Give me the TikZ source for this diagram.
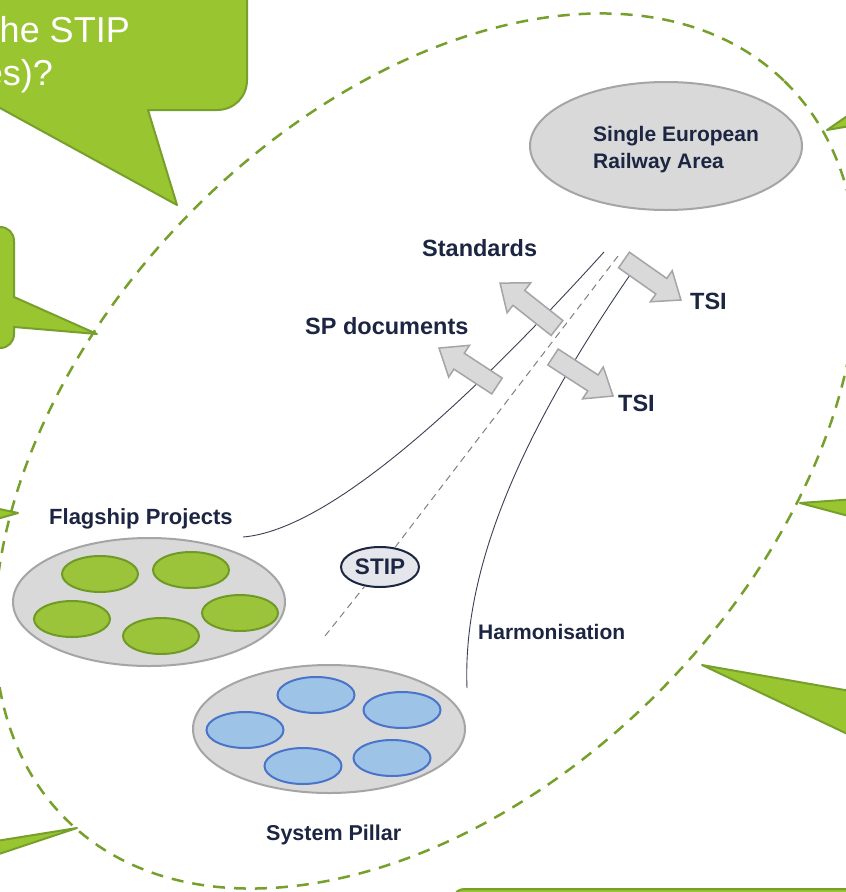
\documentclass[tikz,border=0pt]{standalone}
\usepackage{fontspec}
\setmainfont{Liberation Sans}
\definecolor{calloutgreen}{HTML}{99C530}
\definecolor{calloutedge}{HTML}{76A02B}
\definecolor{navy}{HTML}{1C2541}
\definecolor{panelgrey}{HTML}{D9D9D9}
\definecolor{paneledge}{HTML}{A5A5A5}
\definecolor{leafgreen}{HTML}{9BC43A}
\definecolor{leafedge}{HTML}{6F9A25}
\definecolor{bluefill}{HTML}{9DC3E6}
\definecolor{blueedge}{HTML}{4A74C9}
\definecolor{stipfill}{HTML}{E4E6EC}
\definecolor{curvecol}{HTML}{3A3F55}
\usetikzlibrary{shapes.geometric}
\tikzset{
  panel/.style={ellipse, fill=panelgrey, draw=paneledge, line width=2pt, inner sep=0pt, minimum width=272pt, minimum height=128pt},
  leaf/.style={ellipse, fill=leafgreen, draw=leafedge, line width=2pt, inner sep=0pt, minimum width=76pt, minimum height=36pt},
  bleaf/.style={ellipse, fill=bluefill, draw=blueedge, line width=2pt, inner sep=0pt, minimum width=77pt, minimum height=36pt},
  lbl/.style={font=\bfseries\fontsize{22}{26}\selectfont, text=navy, inner sep=0pt, anchor=base west},
  lblbig/.style={lbl, font=\bfseries\fontsize{23.5}{27}\selectfont},
  callout/.style={fill=calloutgreen, draw=calloutedge, line width=2pt, line join=round},
  bubbletext/.style={font=\fontsize{36}{43}\selectfont, text=white, inner sep=0pt, anchor=base east},
  boundary/.style={draw=calloutedge, line width=2.5pt, dash pattern=on 12pt off 9pt},
  blockarrow/.style={fill=panelgrey, draw=paneledge, line width=1.5pt, line join=miter},
  thinline/.style={draw=curvecol, line width=0.9pt},
  centreline/.style={draw=gray, line width=1pt, dash pattern=on 7pt off 5pt},
  pics/blockarr/.style={code={\draw[blockarrow] (0,-9.5) -- (#1-24,-9.5) -- (#1-24,-19) -- (#1,0) -- (#1-24,19) -- (#1-24,9.5) -- (0,9.5) -- cycle;}}
}
\begin{document}
\begin{tikzpicture}[x=1pt,y=-1pt]
\useasboundingbox (0,0) rectangle (846,892);
\clip (0,0) rectangle (846,892);
\fill[white] (0,0) rectangle (846,892);

% dashed boundary ellipse
\draw[boundary, rotate around={46:(426,451)}] (426,451) ellipse [x radius=515pt, y radius=335pt];

% green callouts
\draw[callout] (-30,-30) -- (247,-30) -- (247,80) .. controls (247,97) and (234,110) .. (217,110) -- (148,110) -- (177,205) -- (-20,97) -- cycle;
\node[bubbletext] (q1) at (130,42) {he STIP};
\node[bubbletext] (q2) at (53,85) {es)?};
\draw[callout] (-30,227) -- (0,227) .. controls (8,227) and (14,233) .. (14,241) -- (14,297) -- (97,334) -- (14,327) -- (14,334) .. controls (14,342) and (8,348) .. (0,348) -- (-30,348) -- cycle;
\draw[callout] (-10,507) -- (18,513) -- (-10,521) -- cycle;
\draw[callout] (-10,842) -- (77,828) -- (-10,857) -- cycle;
\draw[callout] (856,110) -- (827,130) -- (856,125) -- cycle;
\draw[callout] (856,499) -- (800,503) -- (856,518) -- cycle;
\draw[callout] (856,692) -- (702,665) -- (856,738) -- cycle;
\draw[callout] (455,905) -- (455,897) .. controls (455,892) and (458,889) .. (466,889) -- (860,889) -- (860,905) -- cycle;

% Single European Railway Area
\node[panel] (sera) at (666,146) {};
\node[lbl, font=\bfseries\fontsize{21}{25}\selectfont] (sera1) at (593,141) {Single European};
\node[lbl, font=\bfseries\fontsize{21}{25}\selectfont] (sera2) at (593,168) {Railway Area};

% coordinates of the lines
\coordinate (lbot) at (243,537);
\coordinate (ltop) at (604,252);
\coordinate (rbot) at (467,688);
\coordinate (rtop) at (632,272);
\coordinate (dbot) at (325,636);
\coordinate (dtop) at (618,256);

\node[ellipse, fill=stipfill, draw=navy, line width=2pt, inner sep=0pt, minimum width=78pt, minimum height=40pt, font=\bfseries\fontsize{22.5}{26}\selectfont, text=navy] (stip) at (380,567) {STIP};

\draw[centreline] (dbot) -- (stip);
\draw[centreline] (stip) -- (dtop);
\draw[thinline] (lbot) .. controls (330,530) and (470,400) .. (ltop);
\draw[thinline] (rbot) .. controls (462,560) and (530,420) .. (rtop);

% block arrows
\pic[rotate=141.7] at (557,328) {blockarr=72.6};
\pic[rotate=146.8] at (497,386) {blockarr=69.3};
\pic[rotate=-35.1] at (624,260) {blockarr=69.6};
\pic[rotate=-33.0] at (553,357) {blockarr=71.6};

% labels
\node[lblbig] (standards) at (422,256) {Standards};
\node[lblbig] (spdocs) at (305,334) {SP documents};
\node[lblbig] (tsi1) at (690,309) {TSI};
\node[lblbig] (tsi2) at (618,411) {TSI};
\node[lbl] (flag) at (49,524) {Flagship Projects};
\node[lbl, font=\bfseries\fontsize{21}{25}\selectfont] (harm) at (478,639) {Harmonisation};
\node[lbl, font=\bfseries\fontsize{21.5}{25}\selectfont] (sp) at (266,840) {System Pillar};

% Flagship Projects
\node[panel] (fpanel) at (149,602) {};
\node[leaf] (f1) at (100,574) {};
\node[leaf] (f2) at (191,570) {};
\node[leaf] (f3) at (72,619) {};
\node[leaf] (f4) at (240,613) {};
\node[leaf] (f5) at (161,636) {};

% System Pillar
\node[panel] (spanel) at (329,729) {};
\node[bleaf] (b1) at (316,695) {};
\node[bleaf] (b2) at (402,710) {};
\node[bleaf] (b3) at (245,730) {};
\node[bleaf] (b4) at (392,758) {};
\node[bleaf] (b5) at (303,766) {};
\end{tikzpicture}
\end{document}
